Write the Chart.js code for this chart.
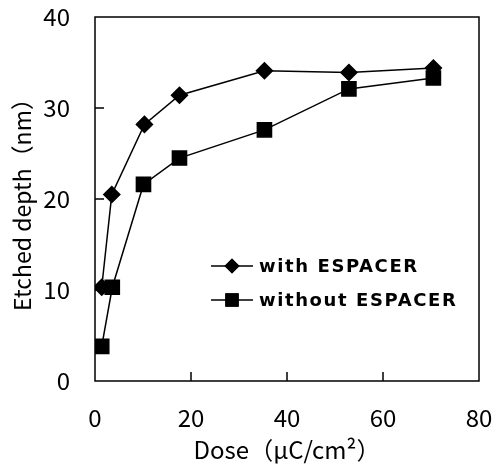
<!DOCTYPE html>
<html>
<head>
<meta charset="utf-8">
<script src="https://cdn.jsdelivr.net/npm/chart.js@4"></script>
<style>
  html, body { margin: 0; padding: 0; background: #fff; }
  #wrap { width: 496px; height: 468px; }
</style>
</head>
<body>
<div id="wrap"><canvas id="doseChart" width="496" height="468"></canvas></div>
<script>
// Etched depth vs dose
const doseWith = [1.4, 3.5, 10.3, 17.6, 35.3, 52.9, 70.5];
const depthWith = [10.3, 20.5, 28.2, 31.4, 34.1, 33.9, 34.4];
const doseWithout = [1.4, 3.6, 10.1, 17.6, 35.3, 52.9, 70.5];
const depthWithout = [3.8, 10.3, 21.6, 24.5, 27.6, 32.1, 33.3];
const xTicks = [0, 20, 40, 60, 80];
const yTicks = [0, 10, 20, 30, 40];
const seriesNames = ['with ESPACER', 'without ESPACER'];

const FONT = "'Noto Sans CJK JP', 'Noto Sans', sans-serif";

const toPoints = (xs, ys) => xs.map((x, i) => ({ x: x, y: ys[i] }));

// keep the plot box fixed, ignore label overhang
const fixBox = (s, size) => {
  if (s.isHorizontal()) s.height = size; else s.width = size;
  s.paddingTop = 0; s.paddingBottom = 0; s.paddingLeft = 0; s.paddingRight = 0;
};

// frame box + inward tick marks
const framePlugin = {
  id: 'frame',
  afterDatasetsDraw(chart) {
    const { ctx, chartArea: a, scales } = chart;
    ctx.save();
    ctx.strokeStyle = '#000';
    ctx.lineWidth = 1.5;
    ctx.strokeRect(a.left, a.top, a.right - a.left, a.bottom - a.top);
    ctx.beginPath();
    xTicks.slice(1, -1).forEach(v => {
      const px = scales.x.getPixelForValue(v);
      ctx.moveTo(px, a.bottom);
      ctx.lineTo(px, a.bottom - 9);
    });
    yTicks.slice(1, -1).forEach(v => {
      const py = scales.y.getPixelForValue(v);
      ctx.moveTo(a.left, py);
      ctx.lineTo(a.left + 9, py);
    });
    ctx.stroke();
    ctx.restore();
  }
};

// legend inside the plot
const legendPlugin = {
  id: 'innerLegend',
  afterDraw(chart) {
    const { ctx } = chart;
    const x0 = 211, x1 = 253, rows = [266, 300];
    ctx.save();
    chart.data.datasets.forEach((ds, i) => {
      const y = rows[i];
      ctx.strokeStyle = '#000';
      ctx.fillStyle = '#000';
      ctx.lineWidth = 1.5;
      ctx.beginPath();
      ctx.moveTo(x0, y);
      ctx.lineTo(x1, y);
      ctx.stroke();
      Chart.helpers.drawPoint(ctx, {
        pointStyle: ds.pointStyle,
        radius: ds.pointStyle === 'rect' ? 9.5 : 7.5,
        borderWidth: 0
      }, (x0 + x1) / 2, y);
      ctx.fill();
      ctx.font = "bold 18px 'DejaVu Sans', sans-serif";
      ctx.letterSpacing = '1.6px';
      ctx.textBaseline = 'middle';
      ctx.textAlign = 'left';
      ctx.fillText(ds.label, 259, y + 1);
    });
    ctx.restore();
  }
};

new Chart(document.getElementById('doseChart').getContext('2d'), {
  type: 'line',
  data: {
    datasets: [{
      label: seriesNames[0],
      data: toPoints(doseWith, depthWith),
      borderColor: '#000',
      backgroundColor: '#000',
      borderWidth: 1.5,
      pointStyle: 'rectRot',
      pointRadius: 8,
      pointHoverRadius: 8
    }, {
      label: seriesNames[1],
      data: toPoints(doseWithout, depthWithout),
      borderColor: '#000',
      backgroundColor: '#000',
      borderWidth: 1.5,
      pointStyle: 'rect',
      pointRadius: 10,
      pointHoverRadius: 10
    }]
  },
  options: {
    responsive: false,
    animation: false,
    layout: { padding: { top: 17, right: 17, left: 0, bottom: 0 } },
    plugins: { legend: { display: false }, tooltip: { enabled: false } },
    scales: {
      x: {
        type: 'linear',
        min: 0, max: 80,
        afterBuildTicks: s => { s.ticks = xTicks.map(v => ({ value: v })); },
        afterFit: s => fixBox(s, 87),
        grid: { display: false, drawTicks: false },
        border: { display: false },
        ticks: { color: '#000', padding: 22, font: { family: FONT, size: 24 } },
        title: {
          display: true,
          text: 'Dose（μC/cm²）',
          color: '#000',
          font: { family: FONT, size: 24 },
          padding: { top: 0, bottom: 4 }
        }
      },
      y: {
        type: 'linear',
        min: 0, max: 40,
        afterBuildTicks: s => { s.ticks = yTicks.map(v => ({ value: v })); },
        afterFit: s => fixBox(s, 95),
        grid: { display: false, drawTicks: false },
        border: { display: false },
        ticks: { color: '#000', padding: 25, font: { family: FONT, size: 24 } },
        title: {
          display: true,
          text: 'Etched depth（nm）',
          color: '#000',
          font: { family: FONT, size: 23 },
          padding: { top: 8, bottom: 0 }
        }
      }
    }
  },
  plugins: [framePlugin, legendPlugin]
});
</script>
</body>
</html>
